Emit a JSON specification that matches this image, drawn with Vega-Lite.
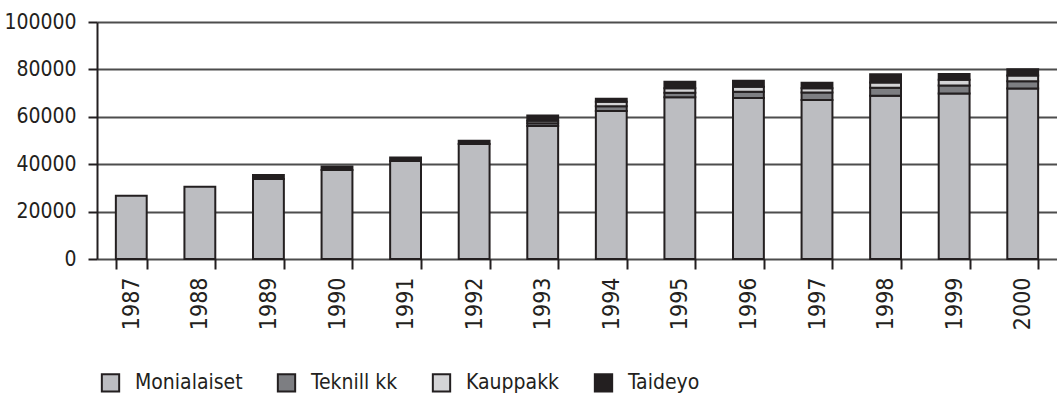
{
  "$schema": "https://vega.github.io/schema/vega-lite/v6.json",
  "autosize": {"type": "none"},
  "padding": {"left": 97, "top": 22, "right": 0, "bottom": 141},
  "width": 960,
  "height": 237,
  "background": "white",
  "config": {
    "view": {"stroke": null},
    "font": "'DejaVu Sans Condensed', 'Liberation Sans Narrow', sans-serif"
  },
  "data": {
    "values": [
      {"year": "1987", "type": "Monialaiset", "value": 26700},
      {"year": "1988", "type": "Monialaiset", "value": 30500},
      {"year": "1989", "type": "Monialaiset", "value": 33800},
      {"year": "1989", "type": "Taideyo", "value": 1600},
      {"year": "1990", "type": "Monialaiset", "value": 37600},
      {"year": "1990", "type": "Taideyo", "value": 1400},
      {"year": "1991", "type": "Monialaiset", "value": 41400},
      {"year": "1991", "type": "Taideyo", "value": 1400},
      {"year": "1992", "type": "Monialaiset", "value": 48500},
      {"year": "1992", "type": "Taideyo", "value": 1400},
      {"year": "1993", "type": "Monialaiset", "value": 56100},
      {"year": "1993", "type": "Teknill kk", "value": 1200},
      {"year": "1993", "type": "Kauppakk", "value": 1000},
      {"year": "1993", "type": "Taideyo", "value": 2200},
      {"year": "1994", "type": "Monialaiset", "value": 62400},
      {"year": "1994", "type": "Teknill kk", "value": 2100},
      {"year": "1994", "type": "Kauppakk", "value": 1800},
      {"year": "1994", "type": "Taideyo", "value": 1300},
      {"year": "1995", "type": "Monialaiset", "value": 68200},
      {"year": "1995", "type": "Teknill kk", "value": 2000},
      {"year": "1995", "type": "Kauppakk", "value": 1800},
      {"year": "1995", "type": "Taideyo", "value": 2800},
      {"year": "1996", "type": "Monialaiset", "value": 67900},
      {"year": "1996", "type": "Teknill kk", "value": 2700},
      {"year": "1996", "type": "Kauppakk", "value": 2100},
      {"year": "1996", "type": "Taideyo", "value": 2500},
      {"year": "1997", "type": "Monialaiset", "value": 67100},
      {"year": "1997", "type": "Teknill kk", "value": 3200},
      {"year": "1997", "type": "Kauppakk", "value": 1700},
      {"year": "1997", "type": "Taideyo", "value": 2400},
      {"year": "1998", "type": "Monialaiset", "value": 68900},
      {"year": "1998", "type": "Teknill kk", "value": 3400},
      {"year": "1998", "type": "Kauppakk", "value": 2200},
      {"year": "1998", "type": "Taideyo", "value": 3500},
      {"year": "1999", "type": "Monialaiset", "value": 69800},
      {"year": "1999", "type": "Teknill kk", "value": 3400},
      {"year": "1999", "type": "Kauppakk", "value": 2400},
      {"year": "1999", "type": "Taideyo", "value": 2500},
      {"year": "2000", "type": "Monialaiset", "value": 71900},
      {"year": "2000", "type": "Teknill kk", "value": 3100},
      {"year": "2000", "type": "Kauppakk", "value": 2400},
      {"year": "2000", "type": "Taideyo", "value": 2700}
    ]
  },
  "transform": [
    {"calculate": "indexof(['Monialaiset','Teknill kk','Kauppakk','Taideyo'], datum.type)", "as": "ord"}
  ],
  "mark": {"type": "bar", "stroke": "#231f20", "strokeWidth": 2},
  "encoding": {
    "x": {
      "field": "year",
      "type": "ordinal",
      "scale": {"paddingInner": 0.55, "paddingOuter": 0.275},
      "axis": {
        "title": null,
        "labelAngle": 270,
        "labelFontSize": 23,
        "labelColor": "#231f20",
        "labelPadding": 8,
        "tickBand": "extent",
        "tickSize": 10,
        "tickWidth": 2,
        "tickColor": "#231f20",
        "domain": false,
        "grid": false
      }
    },
    "y": {
      "field": "value",
      "type": "quantitative",
      "aggregate": "sum",
      "stack": "zero",
      "scale": {"domain": [0, 100000], "nice": false},
      "axis": {
        "title": null,
        "values": [0, 20000, 40000, 60000, 80000, 100000],
        "format": "d",
        "labelFontSize": 21,
        "labelColor": "#231f20",
        "labelPadding": 12,
        "tickSize": 9,
        "tickWidth": 2,
        "tickColor": "#231f20",
        "domainColor": "#231f20",
        "domainWidth": 2,
        "grid": true,
        "gridColor": "#4d4d4d",
        "gridWidth": 2
      }
    },
    "color": {
      "field": "type",
      "type": "nominal",
      "scale": {
        "domain": ["Monialaiset", "Teknill kk", "Kauppakk", "Taideyo"],
        "range": ["#bcbdc1", "#7d7e82", "#d4d4d6", "#231f20"]
      },
      "legend": {
        "title": null,
        "orient": "none",
        "legendX": 3,
        "legendY": 350,
        "direction": "horizontal",
        "symbolType": "square",
        "symbolSize": 300,
        "symbolStrokeColor": "#231f20",
        "symbolStrokeWidth": 2,
        "labelFontSize": 21,
        "labelColor": "#231f20",
        "labelOffset": 14,
        "columnPadding": 30
      }
    },
    "order": {"field": "ord", "type": "quantitative"}
  }
}
